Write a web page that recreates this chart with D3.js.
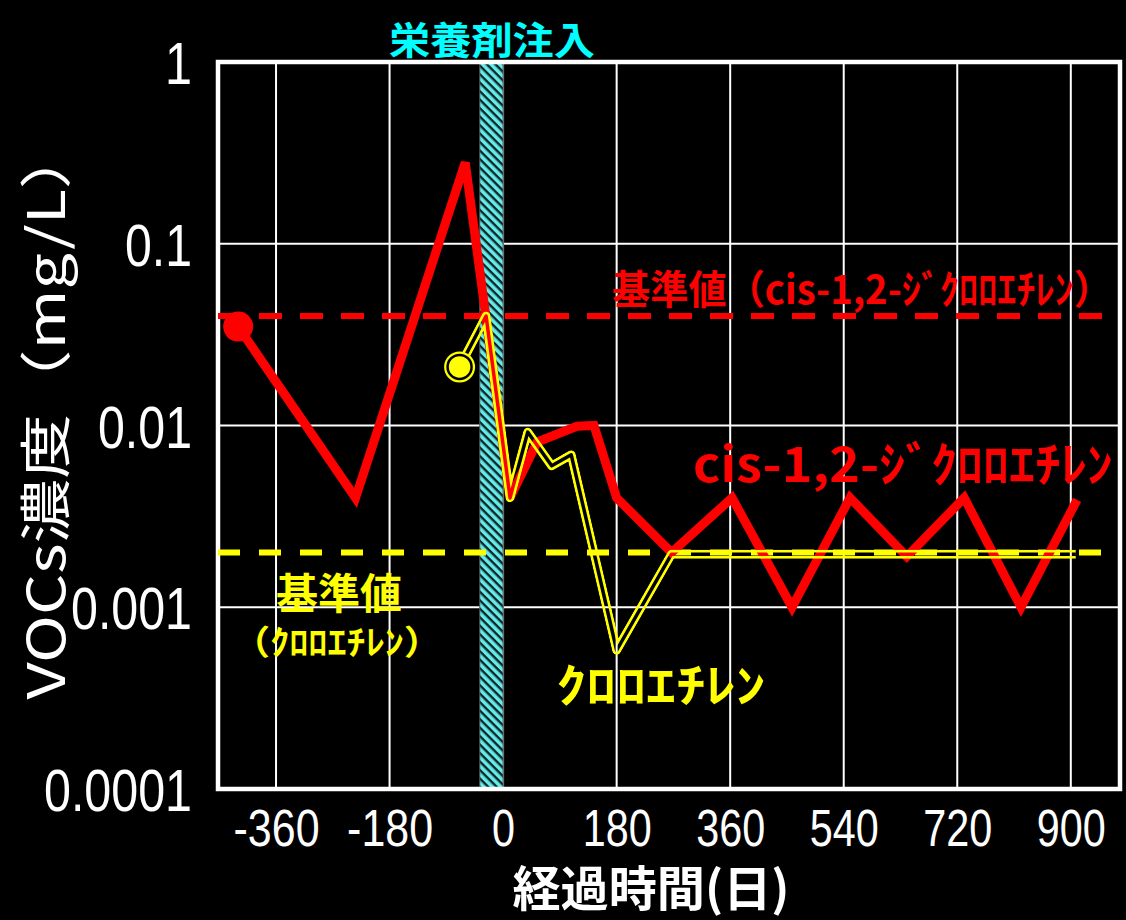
<!DOCTYPE html>
<html>
<head>
<meta charset="utf-8">
<script src="https://cdn.jsdelivr.net/npm/d3@7"></script>
<style>
  body { margin: 0; background: #000; }
  svg { display: block; }
  .axis path, .axis line { display: none; }
  .lbl { font-family: "Liberation Sans", "Noto Sans CJK JP", sans-serif; }
  .jp { font-family: "Noto Sans CJK JP", sans-serif; }
</style>
</head>
<body>
<div class="diagram"></div>
<script>
var width = 1126, height = 920;

// data
var dceDays   = [-420, -234, -60, 11, 54, 117, 144, 180, 267, 363, 458, 550, 640, 731, 821, 910];
var dceValues = [0.035, 0.004, 0.28, 0.004, 0.0081, 0.0099, 0.010, 0.004, 0.002, 0.004, 0.001, 0.004, 0.0019, 0.004, 0.001, 0.0039];
var ceDays    = [-69, -27, 11, 39, 77, 108, 180, 267, 363, 458, 550, 640, 731, 821, 908];
var ceValues  = [0.021, 0.04, 0.004, 0.0092, 0.006, 0.0069, 0.00058, 0.00196, 0.00196, 0.00196, 0.00196, 0.00196, 0.00196, 0.00196, 0.00196];
var dceLimit = 0.04, ceLimit = 0.002;
var injectDays = [-37, 0];
var xTicks = [-360, -180, 0, 180, 360, 540, 720, 900];
var yTicks = [0.0001, 0.001, 0.01, 0.1, 1];
var yTickLabels = ["0.0001", "0.001", "0.01", "0.1", "1"];

var svg = d3.select('.diagram')
  .append('svg')
  .attr('width', width)
  .attr('height', height);

svg.append('rect').attr('width', width).attr('height', height).attr('fill', '#000');

var x = d3.scaleLinear().domain([-452, 978]).range([218, 1120]),
    y = d3.scaleLog().domain([0.0001, 1]).range([789, 62]);

// narrow numbers: width from digit count
function numLength(s, digit, dot) {
  var n = 0;
  for (var i = 0; i < s.length; i++) n += (s[i] === '.' ? dot : (s[i] === '-' ? 17 : digit));
  return n;
}

var defs = svg.append('defs');

var pat = defs.append('pattern')
  .attr('id', 'hatch')
  .attr('patternUnits', 'userSpaceOnUse')
  .attr('width', 6).attr('height', 6)
  .attr('patternTransform', 'rotate(-45)');
pat.append('rect').attr('width', 6).attr('height', 6).attr('fill', '#0b2626');
pat.append('rect').attr('width', 3.6).attr('height', 6).attr('fill', '#66eaea');

// grid
svg.append('g')
  .selectAll('line')
  .data([0.001, 0.01, 0.1])
  .enter()
  .append('line')
  .attr('x1', x.range()[0]).attr('x2', x.range()[1])
  .attr('y1', function(d) { return y(d); })
  .attr('y2', function(d) { return y(d); })
  .attr('stroke', '#fff').attr('stroke-width', 2);

svg.append('g')
  .selectAll('line')
  .data(xTicks)
  .enter()
  .append('line')
  .attr('x1', function(d) { return x(d); })
  .attr('x2', function(d) { return x(d); })
  .attr('y1', y.range()[0]).attr('y2', y.range()[1])
  .attr('stroke', function(d) { return d === 0 ? '#999' : '#fff'; })
  .attr('stroke-width', 2);

// injection band
svg.append('rect')
  .attr('x', x(injectDays[0]))
  .attr('y', y(1))
  .attr('width', x(injectDays[1]) - x(injectDays[0]))
  .attr('height', y(0.0001) - y(1))
  .attr('fill', 'url(#hatch)')
  .attr('stroke', '#555')
  .attr('stroke-width', 1);

// frame
svg.append('rect')
  .attr('x', x.range()[0]).attr('y', y(1))
  .attr('width', x.range()[1] - x.range()[0])
  .attr('height', y(0.0001) - y(1))
  .attr('fill', 'none')
  .attr('stroke', '#fff')
  .attr('stroke-width', 4.5);

// axes
svg.append('g')
  .attr('class', 'axis lbl')
  .attr('transform', 'translate(' + x.range()[0] + ',0)')
  .call(d3.axisLeft(y).tickValues(yTicks).tickSize(0).tickPadding(26)
    .tickFormat(function(d, i) { return yTickLabels[i]; }))
  .selectAll('text')
  .attr('fill', '#fff')
  .attr('font-size', 60)
  .attr('dy', '0.36em')
  .attr('textLength', function(d, i) { return numLength(yTickLabels[i], 27, 13); })
  .attr('lengthAdjust', 'spacingAndGlyphs');

svg.append('g')
  .attr('class', 'axis lbl')
  .attr('transform', 'translate(0,' + y.range()[0] + ')')
  .call(d3.axisBottom(x).tickValues(xTicks).tickSize(0).tickPadding(20)
    .tickFormat(function(d) { return String(d); }))
  .selectAll('text')
  .attr('fill', '#fff')
  .attr('font-size', 52)
  .attr('dy', '0.71em')
  .attr('textLength', function(d) { return numLength(String(d), 23, 12); })
  .attr('lengthAdjust', 'spacingAndGlyphs');

svg.append('text')
  .attr('class', 'jp')
  .attr('x', 651).attr('y', 885)
  .attr('text-anchor', 'middle')
  .attr('dominant-baseline', 'central')
  .attr('fill', '#fff')
  .attr('font-size', 48)
  .style('font-weight', 'bold')
  .attr('textLength', 277)
  .attr('lengthAdjust', 'spacingAndGlyphs')
  .text('経過時間(日)');

svg.append('text')
  .attr('class', 'jp')
  .attr('transform', 'translate(42,412) rotate(-90)')
  .attr('text-anchor', 'middle')
  .attr('dominant-baseline', 'central')
  .attr('fill', '#fff')
  .attr('font-size', 52)
  .style('font-weight', 'normal')
  .attr('textLength', 575)
  .attr('lengthAdjust', 'spacingAndGlyphs')
  .text('VOCs濃度（mg/L）');

// limit lines
svg.append('line')
  .attr('x1', x.range()[0]).attr('x2', x.range()[1])
  .attr('y1', y(dceLimit)).attr('y2', y(dceLimit))
  .attr('stroke', '#ff0000').attr('stroke-width', 6)
  .attr('stroke-dasharray', '23,18');

svg.append('line')
  .attr('x1', x.range()[0]).attr('x2', x.range()[1])
  .attr('y1', y(ceLimit)).attr('y2', y(ceLimit))
  .attr('stroke', '#ffff00').attr('stroke-width', 6)
  .attr('stroke-dasharray', '22,19');

var line = d3.line()
  .x(function(d) { return x(d.day); })
  .y(function(d) { return y(d.value); });

var dce = dceDays.map(function(d, i) { return {day: d, value: dceValues[i]}; });
var ce = ceDays.map(function(d, i) { return {day: d, value: ceValues[i]}; });

// cis-1,2-DCE
svg.append('path')
  .attr('d', line(dce))
  .attr('fill', 'none')
  .attr('stroke', '#ff0000')
  .attr('stroke-width', 9)
  .attr('stroke-linejoin', 'miter')
  .attr('stroke-miterlimit', 3);

svg.append('circle')
  .attr('cx', x(dce[0].day)).attr('cy', y(dce[0].value))
  .attr('r', 15)
  .attr('fill', '#ff0000');

// chloroethylene: hollow double line
var mask = defs.append('mask')
  .attr('id', 'ceMask')
  .attr('maskUnits', 'userSpaceOnUse')
  .attr('x', 0).attr('y', 0).attr('width', width).attr('height', height);
mask.append('path')
  .attr('d', line(ce))
  .attr('fill', 'none').attr('stroke', '#fff').attr('stroke-width', 9)
  .attr('stroke-linejoin', 'round');
mask.append('path')
  .attr('d', line(ce))
  .attr('fill', 'none').attr('stroke', '#000').attr('stroke-width', 3.5)
  .attr('stroke-linejoin', 'round');

svg.append('path')
  .attr('d', line(ce))
  .attr('fill', 'none')
  .attr('stroke', '#ffff00')
  .attr('stroke-width', 9)
  .attr('stroke-linejoin', 'round')
  .attr('mask', 'url(#ceMask)');

svg.append('circle')
  .attr('cx', x(ce[0].day)).attr('cy', y(ce[0].value))
  .attr('r', 15.5).attr('fill', '#ffff00');
svg.append('circle')
  .attr('cx', x(ce[0].day)).attr('cy', y(ce[0].value))
  .attr('r', 12).attr('fill', 'none')
  .attr('stroke', '#000').attr('stroke-width', 2.5);

// labels
function label(txt, cx, cy, size, len, color) {
  svg.append('text')
    .attr('class', 'jp')
    .attr('x', cx).attr('y', cy)
    .attr('text-anchor', 'middle')
    .attr('dominant-baseline', 'central')
    .attr('fill', color)
    .attr('font-size', size)
    .style('font-weight', 'bold')
    .attr('textLength', len)
    .attr('lengthAdjust', 'spacingAndGlyphs')
    .text(txt);
}

label('栄養剤注入', 492, 37, 38, 206, '#00ffff');
label('基準値（cis-1,2-ｼﾞｸﾛﾛｴﾁﾚﾝ）', 862, 287, 40, 500, '#ff0000');
label('cis-1,2-ｼﾞｸﾛﾛｴﾁﾚﾝ', 903, 461, 48, 420, '#ff0000');
label('基準値', 339, 590, 42, 126, '#ffff00');
label('（ｸﾛﾛｴﾁﾚﾝ）', 337, 640, 34, 210, '#ffff00');
label('ｸﾛﾛｴﾁﾚﾝ', 661, 682, 46, 209, '#ffff00');
</script>
</body>
</html>
